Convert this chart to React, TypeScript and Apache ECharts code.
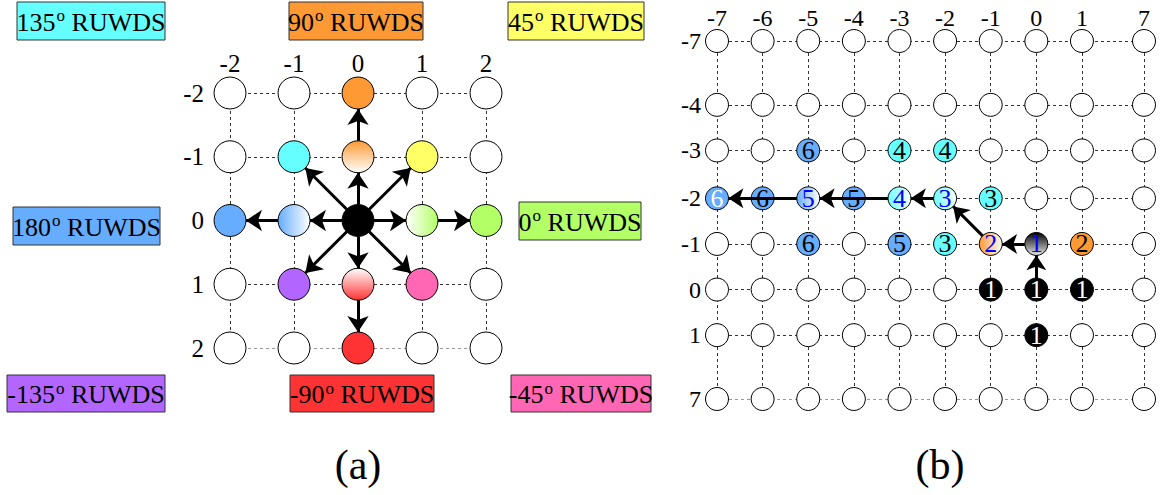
import React, { useEffect, useRef } from "react";
import * as echarts from "echarts";

// ---------- Panel (a): 5x5 neighbourhood ----------
const aTicks = [-2, -1, 0, 1, 2];
const aNodeCol = [0, 0, -1, 1, -2, -1, 0, 1, 2, -1, 0, 1, 0];
const aNodeRow = [-2, -1, -1, -1, 0, 0, 0, 0, 0, 1, 1, 1, 2];
const aNodeFill = ["orange", "orangeV", "cyan", "yellow", "blue", "blueH", "black", "greenHR", "green", "purple", "redVR", "pink", "red"];
const aArrowFrom = [[0, 0], [0, 0], [0, 0], [0, 0], [0, 0], [0, 0], [0, 0], [0, 0], [0, -1], [-1, 0], [1, 0], [0, 1]];
const aArrowTo = [[0, -1], [-1, -1], [1, -1], [-1, 0], [1, 0], [-1, 1], [0, 1], [1, 1], [0, -2], [-2, 0], [2, 0], [0, 2]];

// Direction boxes
const boxAngles = ["135", "90", "45", "180", "0", "-135", "-90", "-45"];
const boxFills = ["cyan", "orange", "yellow", "blue", "green", "purple", "red", "pink"];

// ---------- Panel (b): path on the grid ----------
const bColLabels = ["-7", "-6", "-5", "-4", "-3", "-2", "-1", "0", "1", "7"];
const bColPos = [0, 1, 2, 3, 4, 5, 6, 7, 8, 9.36];
const bRowLabels = ["-7", "-4", "-3", "-2", "-1", "0", "1", "7"];
const bRowPos = [0, 1.4, 2.4, 3.45, 4.45, 5.45, 6.45, 7.85];
const bNodeCol = ["-5", "-3", "-2", "-7", "-6", "-5", "-4", "-3", "-2", "-1", "-5", "-3", "-2", "-1", "0", "1", "-1", "0", "1", "0"];
const bNodeRow = ["-3", "-3", "-3", "-2", "-2", "-2", "-2", "-2", "-2", "-2", "-1", "-1", "-1", "-1", "-1", "-1", "0", "0", "0", "1"];
const bNodeStep = [6, 4, 4, 6, 6, 5, 5, 4, 3, 3, 6, 5, 3, 2, 1, 2, 1, 1, 1, 1];
const bNodeFill = ["blue", "cyan", "cyan", "blue", "blue", "blueH", "blue", "cyanH", "cyanH", "cyan", "blue", "blue", "cyan", "orangeH", "blackV", "orange", "black", "black", "black", "black"];
const bNodeInk = ["k", "k", "k", "w", "k", "b", "k", "b", "b", "k", "k", "k", "k", "b", "b", "k", "w", "w", "w", "w"];
const bArrowFrom = [["0", "0"], ["0", "-1"], ["-1", "-1"], ["-2", "-2"], ["-3", "-2"], ["-5", "-2"]];
const bArrowTo = [["0", "-1"], ["-1", "-1"], ["-2", "-2"], ["-3", "-2"], ["-5", "-2"], ["-7", "-2"]];

const BASE: Record<string, string> = {
  orange: "#FF9933",
  cyan: "#66FFFF",
  yellow: "#FFFF66",
  blue: "#66ADFF",
  green: "#B3FF66",
  purple: "#B366FF",
  pink: "#FF66B3",
  red: "#FF3333",
  black: "#000000",
};
const INK: Record<string, string> = { k: "#000", w: "#fff", b: "#0000FF" };
const SERIF = "Liberation Serif";

function fill(key: string): any {
  const m = key.match(/^(orange|cyan|yellow|blue|green|purple|pink|red|black)(H|HR|V|VR)?$/);
  if (!m) return "#fff";
  const c = BASE[m[1]];
  const mode = m[2];
  const light = m[1] === "black" ? "#E6E6E6" : "#FFFFFF";
  if (!mode) return c;
  const horiz = mode[0] === "H";
  const rev = mode.length === 2;
  return {
    type: "linear",
    x: 0, y: 0, x2: horiz ? 1 : 0, y2: horiz ? 0 : 1,
    colorStops: [
      { offset: 0, color: rev ? light : c },
      { offset: 1, color: rev ? c : light },
    ],
  };
}

function shrink(p: number[], q: number[], r: number) {
  const dx = q[0] - p[0];
  const dy = q[1] - p[1];
  const d = Math.sqrt(dx * dx + dy * dy);
  const ux = dx / d, uy = dy / d;
  return [[p[0] + ux * r, p[1] + uy * r], [q[0] - ux * r, q[1] - uy * r]];
}

const bx = (l: string) => bColPos[bColLabels.indexOf(l)];
const by = (l: string) => bRowPos[bRowLabels.indexOf(l)];

function buildOption() {
  // panel a dashed grid
  const aDash: any[] = [];
  aTicks.forEach((t) => {
    aDash.push({ coords: [[aTicks[0], t], [aTicks[aTicks.length - 1], t]] });
    aDash.push({ coords: [[t, aTicks[0]], [t, aTicks[aTicks.length - 1]]] });
  });
  const aColoured = new Set(aNodeCol.map((c, i) => c + "," + aNodeRow[i]));
  const aNodes: any[] = [];
  aTicks.forEach((r) =>
    aTicks.forEach((c) => {
      if (!aColoured.has(c + "," + r)) aNodes.push({ value: [c, r], itemStyle: { color: "#fff" } });
    })
  );
  aNodeCol.forEach((c, i) => aNodes.push({ value: [c, aNodeRow[i]], itemStyle: { color: fill(aNodeFill[i]) } }));
  const aArrows = aArrowFrom.map((f, i) => ({ coords: shrink(f, aArrowTo[i], 0.25) }));

  // panel b
  const bDash: any[] = [];
  bRowPos.forEach((y) => bDash.push({ coords: [[bColPos[0], y], [bColPos[bColPos.length - 1], y]] }));
  bColPos.forEach((x) => bDash.push({ coords: [[x, bRowPos[0]], [x, bRowPos[bRowPos.length - 1]]] }));
  const bColoured = new Set(bNodeCol.map((c, i) => c + "," + bNodeRow[i]));
  const bNodes: any[] = [];
  bRowLabels.forEach((r) =>
    bColLabels.forEach((c) => {
      if (!bColoured.has(c + "," + r)) bNodes.push({ value: [bx(c), by(r)], name: "", itemStyle: { color: "#fff" } });
    })
  );
  bNodeCol.forEach((c, i) =>
    bNodes.push({
      value: [bx(c), by(bNodeRow[i])],
      name: String(bNodeStep[i]),
      itemStyle: { color: fill(bNodeFill[i]) },
      label: { color: INK[bNodeInk[i]] },
    })
  );
  const bArrows = bArrowFrom.map((f, i) => ({
    coords: shrink([bx(f[0]), by(f[1])], [bx(bArrowTo[i][0]), by(bArrowTo[i][1])], 0.25),
  }));

  const dashStyle = { type: [3, 3], color: "#333", width: 1, opacity: 1 };
  const arrowStyle = { color: "#000", width: 3, opacity: 1 };
  const labelFmt = (pos: number[], labels: string[]) => (v: number) => {
    const i = pos.findIndex((p) => Math.abs(p - v) < 1e-6);
    return i >= 0 ? labels[i] : "";
  };

  // boxes layout
  const boxRects = [
    [17, 2, 148, 38], [289, 2, 134, 38], [508, 2, 136, 38],
    [13, 207, 147, 38], [519, 202, 122, 38],
    [7, 375, 158, 37], [290, 375, 144, 37], [511, 375, 140, 37],
  ];
  const graphics: any[] = [];
  boxAngles.forEach((a, i) => {
    const [x, y, w, h] = boxRects[i];
    graphics.push({
      type: "rect",
      shape: { x, y, width: w, height: h },
      style: { fill: BASE[boxFills[i]], stroke: "#333", lineWidth: 1 },
      z: 10,
    });
    graphics.push({
      type: "text",
      x: x + w / 2,
      y: y + h / 2 + 1,
      z: 11,
      style: {
        text: "{n|" + a + "}{s|o}{n| RUWDS}",
        align: "center",
        verticalAlign: "middle",
        rich: {
          n: { fontSize: 26, fontFamily: SERIF, fill: "#000", lineHeight: 30 },
          s: { fontSize: 17, fontFamily: SERIF, fill: "#000", verticalAlign: "top", lineHeight: 17, padding: [0, 0, 0, 1] },
        },
      },
    });
  });
  graphics.push({ type: "text", x: 358, y: 465, z: 11, style: { text: "(a)", fontSize: 42, fontFamily: SERIF, fill: "#000", align: "center", verticalAlign: "middle" } });
  graphics.push({ type: "text", x: 940, y: 465, z: 11, style: { text: "(b)", fontSize: 42, fontFamily: SERIF, fill: "#000", align: "center", verticalAlign: "middle" } });

  const axisCommon = {
    axisLine: { show: false },
    axisTick: { show: false },
    splitLine: { show: false },
  };

  return {
    animation: false,
    backgroundColor: "#fff",
    grid: [
      { left: 230, top: 93, width: 256, height: 255 },
      { left: 717, top: 41, width: 427, height: 358 },
    ],
    xAxis: [
      {
        gridIndex: 0, type: "value", position: "top", min: -2, max: 2, interval: 1, ...axisCommon,
        axisLabel: { fontSize: 25, fontFamily: SERIF, color: "#000", margin: 17 },
      },
      {
        gridIndex: 1, type: "value", position: "top", min: 0, max: bColPos[bColPos.length - 1], ...axisCommon,
        axisLabel: { customValues: bColPos, formatter: labelFmt(bColPos, bColLabels), fontSize: 24, fontFamily: SERIF, color: "#000", margin: 11, showMinLabel: true, showMaxLabel: true },
      },
    ],
    yAxis: [
      {
        gridIndex: 0, type: "value", inverse: true, min: -2, max: 2, interval: 1, ...axisCommon,
        axisLabel: { fontSize: 25, fontFamily: SERIF, color: "#000", margin: 26 },
      },
      {
        gridIndex: 1, type: "value", inverse: true, min: 0, max: bRowPos[bRowPos.length - 1], ...axisCommon,
        axisLabel: { customValues: bRowPos, formatter: labelFmt(bRowPos, bRowLabels), fontSize: 24, fontFamily: SERIF, color: "#000", margin: 16, showMinLabel: true, showMaxLabel: true },
      },
    ],
    series: [
      { type: "lines", coordinateSystem: "cartesian2d", xAxisIndex: 0, yAxisIndex: 0, symbol: "none", lineStyle: dashStyle, data: aDash, z: 1, silent: true },
      { type: "scatter", xAxisIndex: 0, yAxisIndex: 0, symbolSize: 32, data: aNodes, itemStyle: { borderColor: "#000", borderWidth: 1, opacity: 1 }, z: 2 },
      { type: "lines", coordinateSystem: "cartesian2d", xAxisIndex: 0, yAxisIndex: 0, symbol: ["none", "arrow"], symbolSize: 16, lineStyle: arrowStyle, data: aArrows, z: 3 },
      { type: "lines", coordinateSystem: "cartesian2d", xAxisIndex: 1, yAxisIndex: 1, symbol: "none", lineStyle: dashStyle, data: bDash, z: 1, silent: true },
      {
        type: "scatter", xAxisIndex: 1, yAxisIndex: 1, symbolSize: 23, data: bNodes,
        itemStyle: { borderColor: "#000", borderWidth: 1, opacity: 1 }, z: 2,
        label: { show: true, position: "inside", formatter: (p: any) => p.name, fontSize: 26, fontFamily: SERIF, color: "#000" },
      },
      { type: "lines", coordinateSystem: "cartesian2d", xAxisIndex: 1, yAxisIndex: 1, symbol: ["none", "arrow"], symbolSize: 15, lineStyle: arrowStyle, data: bArrows, z: 4 },
    ],
    graphic: graphics,
  };
}

export default function App() {
  const ref = useRef<HTMLDivElement>(null);
  useEffect(() => {
    if (!ref.current) return;
    const chart = echarts.init(ref.current, null, { renderer: "svg" });
    chart.setOption(buildOption() as any);
    return () => chart.dispose();
  }, []);
  return <div ref={ref} style={{ position: "fixed", left: 0, top: 0, width: 1168, height: 495, background: "#fff" }} />;
}
